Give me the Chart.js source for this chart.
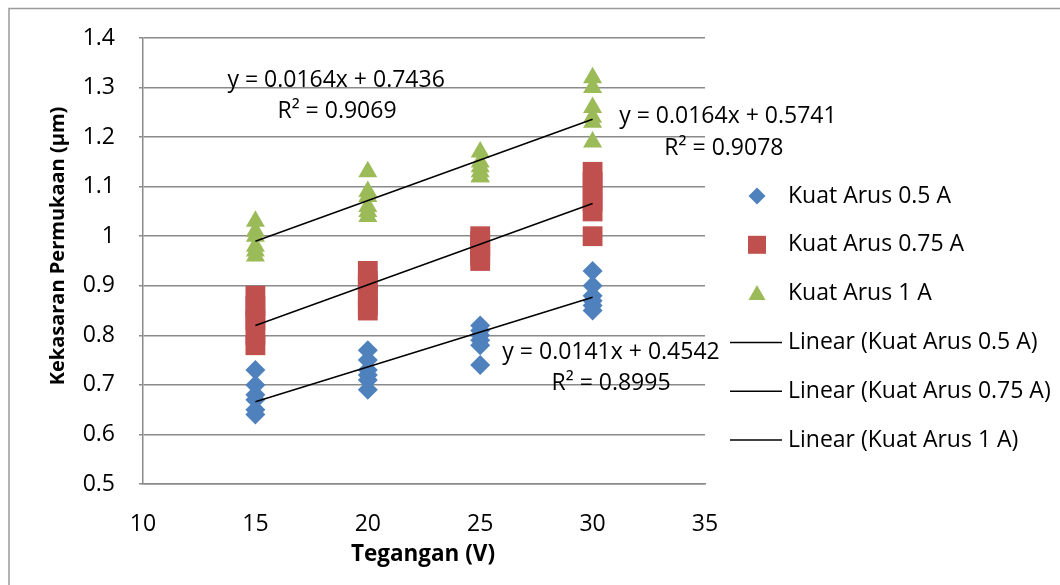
<!DOCTYPE html>
<html>
<head>
<meta charset="utf-8">
<script src="https://cdn.jsdelivr.net/npm/chart.js@4/dist/chart.umd.min.js"></script>
<style>
  html, body { margin: 0; padding: 0; background: #fff; }
  #wrap { width: 1060px; height: 585px; position: relative; }
</style>
</head>
<body>
<div id="wrap"><canvas id="myChart" width="1060" height="585"></canvas></div>
<script>
// data
const voltages = [15, 20, 25, 30]
const arus05 = [
    [0.73, 0.70, 0.68, 0.67, 0.65, 0.64],
    [0.77, 0.75, 0.73, 0.72, 0.71, 0.69],
    [0.82, 0.81, 0.80, 0.79, 0.78, 0.74],
    [0.93, 0.90, 0.88, 0.87, 0.86, 0.85]
]
const arus075 = [
    [0.88, 0.86, 0.84, 0.83, 0.80, 0.78],
    [0.93, 0.91, 0.90, 0.88, 0.86, 0.85],
    [1.00, 0.99, 0.98, 0.97, 0.96, 0.95],
    [1.13, 1.11, 1.09, 1.07, 1.05, 1.00]
]
const arus1 = [
    [1.03, 1.01, 1.00, 0.98, 0.97, 0.96],
    [1.13, 1.09, 1.08, 1.06, 1.05, 1.04],
    [1.17, 1.15, 1.14, 1.13, 1.12, 1.12],
    [1.32, 1.30, 1.26, 1.24, 1.23, 1.19]
]
const trendX = [15, 30]
const trend05 = [0.666, 0.877]
const trend075 = [0.820, 1.066]
const trend1 = [0.990, 1.236]

const eqTexts = ['y = 0.0164x + 0.7436', 'R² = 0.9069', 'y = 0.0164x + 0.5741', 'R² = 0.9078', 'y = 0.0141x + 0.4542', 'R² = 0.8995']
const eqX = [18.59, 18.63, 36.02, 35.84, 30.82, 30.82]
const eqY = [1.315, 1.251, 1.241, 1.178, 0.766, 0.702]

const legendLabels = ['Kuat Arus 0.5 A', 'Kuat Arus 0.75 A', 'Kuat Arus 1 A',
    'Linear (Kuat Arus 0.5 A)', 'Linear (Kuat Arus 0.75 A)', 'Linear (Kuat Arus 1 A)']
const xTitle = 'Tegangan (V)'
const yTitle = 'Kekasaran Permukaan (µm)'

const BLUE = '#4F81BD', RED = '#C0504D', GREEN = '#9BBB59'
const FONT = '"Open Sans", Lato, sans-serif'

function toPoints(groups) {
    const pts = []
    groups.forEach((vals, i) => vals.forEach(v => pts.push({x: voltages[i], y: v})))
    return pts
}
function toLine(vals) {
    return trendX.map((x, i) => ({x: x, y: vals[i]}))
}

function drawMarker(ctx, type, x, y, s, color) {
    ctx.save()
    ctx.fillStyle = color
    ctx.beginPath()
    if (type === 'diamond') {
        ctx.moveTo(x, y - s); ctx.lineTo(x + s, y); ctx.lineTo(x, y + s); ctx.lineTo(x - s, y)
    } else if (type === 'square') {
        ctx.rect(x - s, y - s, 2 * s, 2 * s)
    } else {
        ctx.moveTo(x, y - s); ctx.lineTo(x + s, y + s * 0.75); ctx.lineTo(x - s, y + s * 0.75)
    }
    ctx.closePath()
    ctx.fill()
    ctx.restore()
}

// frame, titles, equations and legend
const extras = {
    id: 'extras',
    beforeDraw(chart) {
        const ctx = chart.ctx
        ctx.save()
        ctx.strokeStyle = '#9a9a9a'
        ctx.lineWidth = 1.5
        ctx.beginPath()
        ctx.moveTo(9, 585); ctx.lineTo(9, 8.5); ctx.lineTo(1060, 8.5)
        ctx.stroke()
        ctx.restore()
    },
    afterDraw(chart) {
        const ctx = chart.ctx
        const xs = chart.scales.x, ys = chart.scales.y
        ctx.save()
        ctx.fillStyle = '#000'
        ctx.textAlign = 'center'
        ctx.textBaseline = 'middle'
        // axis titles
        ctx.font = 'bold 22.5px ' + FONT
        ctx.fillText(xTitle, 423, 555)
        ctx.save()
        ctx.translate(58, 246)
        ctx.rotate(-Math.PI / 2)
        ctx.font = 'bold 20px ' + FONT
        ctx.fillText(yTitle, 0, 0)
        ctx.restore()
        // trendline equations
        ctx.font = '23px ' + FONT
        eqTexts.forEach((t, i) => {
            ctx.fillText(t, xs.getPixelForValue(eqX[i]), ys.getPixelForValue(eqY[i]))
        })
        // legend
        const lx = 757, ly = 196, gap = 48.8
        const markers = ['diamond', 'square', 'triangle']
        const colors = [BLUE, RED, GREEN]
        ctx.font = '23px ' + FONT
        ctx.textAlign = 'left'
        legendLabels.forEach((label, i) => {
            const y = ly + i * gap
            if (i < 3) {
                drawMarker(ctx, markers[i], lx, y, i === 1 ? 9 : 8.5, colors[i])
            } else {
                ctx.strokeStyle = '#000'
                ctx.lineWidth = 1.5
                ctx.beginPath()
                ctx.moveTo(730, y); ctx.lineTo(782, y)
                ctx.stroke()
            }
            ctx.fillStyle = '#000'
            ctx.fillText(label, 788, y)
        })
        ctx.restore()
    }
}

const ctx = document.getElementById('myChart').getContext('2d')
new Chart(ctx, {
    type: 'scatter',
    data: {
        datasets: [
            {label: legendLabels[0], data: toPoints(arus05), pointStyle: 'rectRot', pointRadius: 10, backgroundColor: BLUE, borderWidth: 0, order: 3},
            {label: legendLabels[1], data: toPoints(arus075), pointStyle: 'rect', pointRadius: 14, backgroundColor: RED, borderWidth: 0, order: 2},
            {label: legendLabels[2], data: toPoints(arus1), pointStyle: 'triangle', pointRadius: 11, backgroundColor: GREEN, borderWidth: 0, order: 1},
            {label: legendLabels[3], data: toLine(trend05), showLine: true, pointRadius: 0, borderColor: '#000', borderWidth: 1.5, order: 0},
            {label: legendLabels[4], data: toLine(trend075), showLine: true, pointRadius: 0, borderColor: '#000', borderWidth: 1.5, order: 0},
            {label: legendLabels[5], data: toLine(trend1), showLine: true, pointRadius: 0, borderColor: '#000', borderWidth: 1.5, order: 0}
        ]
    },
    options: {
        responsive: false,
        animation: false,
        layout: { padding: { top: 38, right: 355, left: 0, bottom: 0 } },
        plugins: {
            legend: { display: false },
            tooltip: { enabled: false }
        },
        scales: {
            x: {
                type: 'linear',
                min: 10, max: 35,
                afterFit: (s) => { s.height = 101 },
                ticks: { stepSize: 5, padding: 19, color: '#000', font: { family: FONT, size: 23 } },
                grid: { display: false },
                border: { display: true, color: '#8a8a8a', width: 1.5 }
            },
            y: {
                min: 0.5, max: 1.4,
                afterFit: (s) => { s.width = 143 },
                ticks: {
                    stepSize: 0.1, padding: 24, color: '#000',
                    font: { family: FONT, size: 23 },
                    callback: (v) => String(Number(v.toFixed(1)))
                },
                grid: { color: '#8a8a8a', lineWidth: 1.5, tickLength: 4 },
                border: { display: true, color: '#8a8a8a', width: 1.5 }
            }
        }
    },
    plugins: [extras]
})
</script>
</body>
</html>
